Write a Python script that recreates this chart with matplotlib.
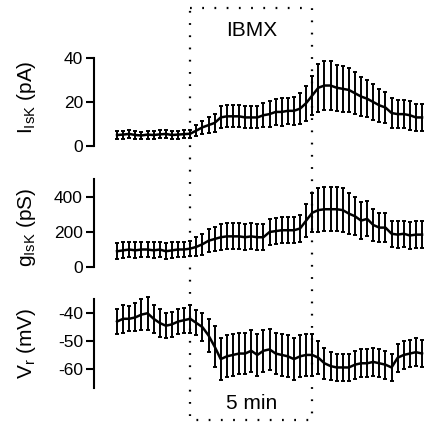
import numpy as np
import matplotlib
matplotlib.use('Agg')
import matplotlib.pyplot as plt
from matplotlib.lines import Line2D
from matplotlib.transforms import blended_transform_factory

plt.rcParams['font.family'] = ['Liberation Sans', 'DejaVu Sans']
plt.rcParams['mathtext.fontset'] = 'custom'
plt.rcParams['mathtext.rm'] = 'Liberation Sans'

# sampling: one point every 15 s
time_min = np.arange(51) * 0.25
ibmx_on, ibmx_off = 3.0, 8.0

i_isk = [5.0, 5.2, 5.5, 5.0, 4.8, 5.2, 5.0, 5.3, 5.5, 5.0, 5.2, 5.4,
         5.6, 7.0, 8.5, 9.5, 10.5, 13.0, 13.5, 13.5, 13.5, 13.0, 13.0, 13.0,
         14.0, 14.5, 15.5, 15.5, 16.0, 16.0, 17.0, 19.5, 23.0, 26.5, 27.5,
         27.5, 26.5, 26.0, 25.5, 24.0, 22.5, 21.5, 20.0, 18.5, 17.5, 15.0,
         14.5, 14.5, 14.0, 13.0, 13.0]
i_err = [1.8] * 13 + [2.5, 3.0, 3.5, 4.0] + [5.0] * 7 + \
        [5.5, 6.0, 6.0, 6.5, 6.0, 6.5, 7.0, 8.0, 9.0, 11.0, 11.0, 11.0, 10.5,
         10.5, 10.0, 9.5, 9.0, 8.5, 8.0, 7.5, 7.0, 7.0, 6.5, 6.5, 6.5, 6.0,
         6.0]

g_isk = [90, 95, 100, 95, 100, 100, 95, 100, 90, 95, 100, 100, 105,
         115, 130, 150, 160, 170, 175, 175, 175, 170, 175, 170, 170,
         200, 205, 210, 210, 210, 220, 265, 310, 325, 330, 330, 330, 325,
         305, 290, 265, 275, 240, 225, 225, 190, 185, 190, 180, 185, 185]
g_err = [45] * 13 + [55, 60, 65, 70] + [75] * 14 + \
        [95, 110, 125, 125, 125, 125, 125, 115, 110, 105, 100, 90, 85, 85,
         75, 75, 75, 75, 75, 75]

v_r = [-43, -42, -42, -41.5, -40.5, -40, -42, -43.5, -44.5, -44, -43,
       -42.5, -42, -43.5, -45, -48, -52, -56.5, -55.5, -55, -54.5, -54.5,
       -53.5, -55, -53.5, -53, -54.5, -55, -55.5, -56.5, -55.5, -55, -55,
       -56, -58, -59, -59.5, -59.5, -59.5, -58.5, -58, -58, -57.5, -58,
       -58.5, -59.5, -56, -55, -54.5, -54, -54.5]
v_err = [4.5, 5, 4.5, 5, 5.5, 6, 5, 5, 4.5, 4.5, 4.5, 4.5, 5, 4.5, 5, 6] + \
        [7.5] * 17 + [6, 5.5, 5, 5, 5, 5, 5, 5, 5, 5, 5, 5, 5, 5, 5, 5, 5, 5]

panels = [
    (i_isk, i_err, (0, 40), [0, 20, 40], r'$\mathregular{I_{IsK}}$ (pA)', 0.55),
    (g_isk, g_err, (0, 500), [0, 200, 400], r'$\mathregular{g_{IsK}}$ (pS)', 0.45),
    (v_r, v_err, (-67, -35), [-60, -50, -40], r'$\mathregular{V_r}$ (mV)', 0.5),
]
# axes rectangles in figure fraction (left, bottom, width, height)
rects = [(0.2212, 0.6548, 0.7788, 0.2080),
         (0.2212, 0.3688, 0.7788, 0.2069),
         (0.2212, 0.0820, 0.7788, 0.2104)]

fig = plt.figure(figsize=(4.25, 4.23), dpi=100)
axes = []
for (y, err, ylim, ticks, label, ly), rect in zip(panels, rects):
    ax = fig.add_axes(rect)
    ax.errorbar(time_min, y, yerr=err, fmt='-', color='black', lw=1.8,
                elinewidth=1.4, capsize=1.35, capthick=1.4, clip_on=False)
    ax.set_xlim(-0.943, 12.62)
    ax.set_ylim(*ylim)
    ax.set_yticks(ticks)
    ax.set_yticklabels([str(t) for t in ticks])
    for s in ['top', 'right', 'bottom']:
        ax.spines[s].set_visible(False)
    ax.spines['left'].set_linewidth(1.5)
    ax.set_xticks([])
    ax.tick_params(axis='y', length=6, width=1.5, pad=2, labelsize=12.5)
    ax.set_ylabel(label, fontsize=15)
    ax.yaxis.set_label_coords(-0.17, ly)
    ax.patch.set_visible(False)
    axes.append(ax)

# IBMX application window (dotted box); bottom edge doubles as 5 min bar
tr = blended_transform_factory(axes[0].transData, fig.transFigure)
box = Line2D([ibmx_on, ibmx_off, ibmx_off, ibmx_on, ibmx_on],
             [0.981, 0.981, 0.007, 0.007, 0.981], transform=tr,
             color='black', lw=1.6, linestyle=(0, (0.8, 4.7)))
fig.add_artist(box)
mid = (ibmx_on + ibmx_off) / 2
fig.text(mid, 0.929, 'IBMX', transform=tr, ha='center', va='center',
         fontsize=15)
fig.text(mid, 0.045, '5 min', transform=tr, ha='center', va='center',
         fontsize=15)

fig.savefig('out.png', dpi=100)
